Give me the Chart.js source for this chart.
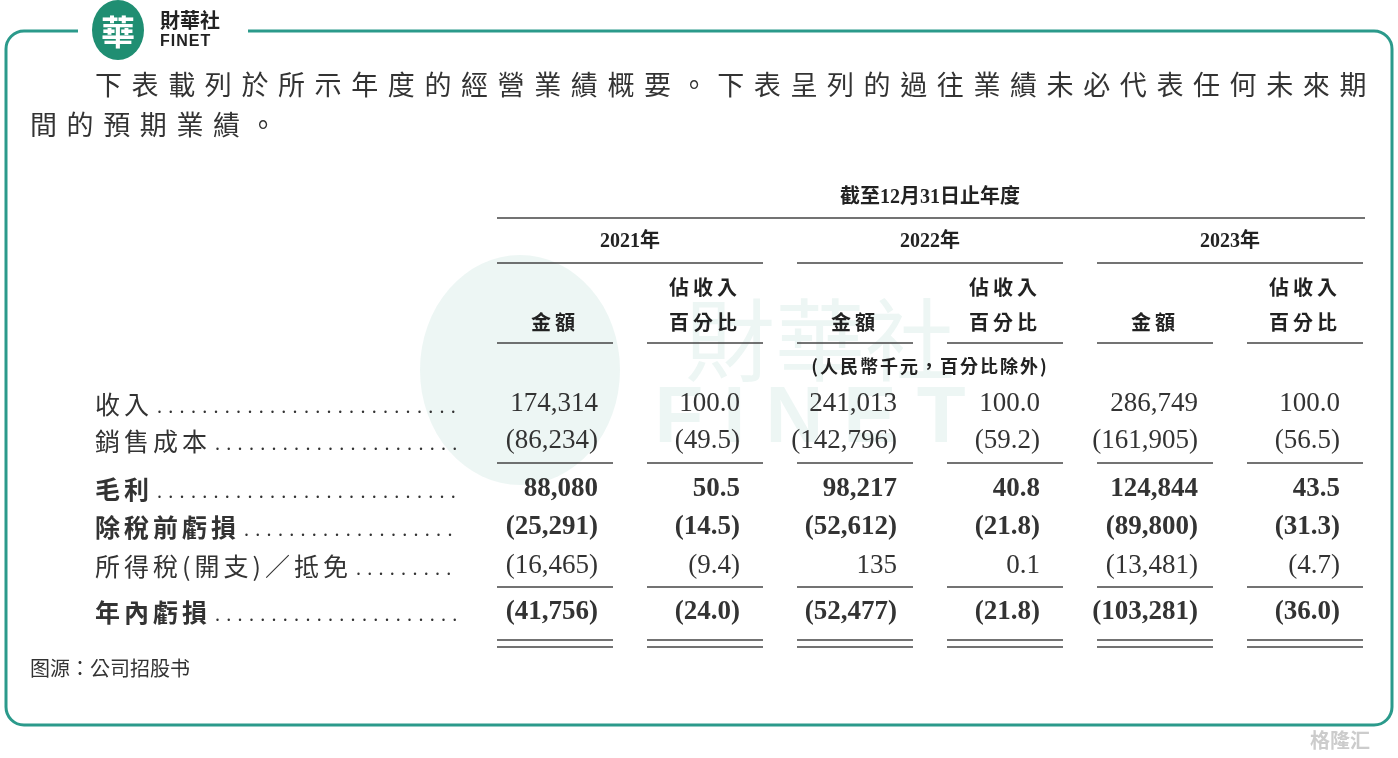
<!DOCTYPE html>
<html><head><meta charset="utf-8">
<script src="https://cdn.jsdelivr.net/npm/chart.js@4"></script>
<style>html,body{margin:0;background:#fff}#wrap{width:1398px;height:758px}</style>
</head><body><div id="wrap"><canvas id="c"></canvas></div>
<script>
// 表格数据
const years = ['2021年', '2022年', '2023年'];
const rowLabels = ['收入', '銷售成本', '毛利', '除稅前虧損', '所得稅(開支)／抵免', '年內虧損'];
const boldRows = [false, false, true, true, false, true];
const amounts2021 = ['174,314', '(86,234)', '88,080', '(25,291)', '(16,465)', '(41,756)'];
const pct2021 = ['100.0', '(49.5)', '50.5', '(14.5)', '(9.4)', '(24.0)'];
const amounts2022 = ['241,013', '(142,796)', '98,217', '(52,612)', '135', '(52,477)'];
const pct2022 = ['100.0', '(59.2)', '40.8', '(21.8)', '0.1', '(21.8)'];
const amounts2023 = ['286,749', '(161,905)', '124,844', '(89,800)', '(13,481)', '(103,281)'];
const pct2023 = ['100.0', '(56.5)', '43.5', '(31.3)', '(4.7)', '(36.0)'];
const introLines = ['下表載列於所示年度的經營業績概要。下表呈列的過往業績未必代表任何未來期', '間的預期業績。'];

const rowY = [404, 441, 489, 527, 566, 612];
const SERIF = '"Liberation Serif", "Noto Sans CJK TC", serif';
const CJK = '"Noto Sans CJK TC", sans-serif';

const tablePlugin = {
    id: 'table',
    afterDraw(chart) {
        const c = chart.ctx;
        const X = v => chart.scales.x.getPixelForValue(v);
        const Y = v => chart.scales.y.getPixelForValue(v);
        const text = (t, x, y, font, align = 'left', color = '#333', spacing = '0px') => {
            c.font = font; c.fillStyle = color; c.textAlign = align; c.textBaseline = 'middle';
            c.letterSpacing = spacing;
            c.fillText(t, X(x), Y(y));
            c.letterSpacing = '0px';
        };
        const line = (x1, x2, y, w = 1.5, color = '#444') => {
            c.strokeStyle = color; c.lineWidth = w;
            c.beginPath(); c.moveTo(X(x1), Y(y)); c.lineTo(X(x2), Y(y)); c.stroke();
        };
        c.save();
        // 外框
        c.strokeStyle = '#2b9a8b'; c.lineWidth = 3;
        c.beginPath(); c.roundRect(X(6), Y(31), X(1392) - X(6), Y(725) - Y(31), 18); c.stroke();
        c.fillStyle = '#fff'; c.fillRect(X(78), 0, 170, 60);
        // logo
        c.fillStyle = '#1f8e72';
        c.beginPath(); c.ellipse(X(118), Y(30), 26, 30, 0, 0, Math.PI * 2); c.fill();
        text('華', 118, 32, 'bold 34px ' + CJK, 'center', '#fff');
        text('財華社', 160, 20, 'bold 20px ' + CJK, 'left', '#222');
        text('FINET', 160, 42, 'bold 16px "Liberation Sans", sans-serif', 'left', '#222', '1px');
        // 水印
        c.globalAlpha = 0.08;
        c.fillStyle = '#1f8e72';
        c.beginPath(); c.ellipse(X(520), Y(370), 100, 115, 0, 0, Math.PI * 2); c.fill();
        text('財華社', 820, 340, '90px ' + CJK, 'center', '#1f8e72');
        text('FINET', 820, 420, 'bold 80px "Liberation Sans", sans-serif', 'center', '#1f8e72', '20px');
        c.globalAlpha = 1;
        // 说明文字
        text(introLines[0], 95, 85, '27px ' + CJK, 'left', '#333', '9.6px');
        text(introLines[1], 30, 125, '27px ' + CJK, 'left', '#333', '9.6px');
        // 表头
        text('截至12月31日止年度', 930, 198, 'bold 20px ' + SERIF, 'center', '#222');
        line(497, 1365, 218);
        const groupX = [497, 797, 1097];
        groupX.forEach((g, i) => {
            text(years[i], g + 133, 242, 'bold 20px ' + SERIF, 'center', '#222');
            line(g, g + 266, 263);
            text('金額', g + 58, 322, 'bold 20px ' + CJK, 'center', '#222', '4px');
            text('佔收入', g + 208, 287, 'bold 20px ' + CJK, 'center', '#222', '4px');
            text('百分比', g + 208, 322, 'bold 20px ' + CJK, 'center', '#222', '4px');
            line(g, g + 116, 343); line(g + 150, g + 266, 343);
            line(g, g + 116, 463); line(g + 150, g + 266, 463);
            line(g, g + 116, 587); line(g + 150, g + 266, 587);
            line(g, g + 116, 640); line(g + 150, g + 266, 640);
            line(g, g + 116, 647); line(g + 150, g + 266, 647);
        });
        text('(人民幣千元，百分比除外)', 930, 366, 'bold 18px ' + CJK, 'center', '#222', '2px');
        // 数据行
        const cols = [[598, amounts2021], [740, pct2021], [897, amounts2022], [1040, pct2022], [1198, amounts2023], [1340, pct2023]];
        rowLabels.forEach((lab, r) => {
            const b = boldRows[r] ? 'bold ' : '';
            text(lab, 95, rowY[r], b + '25px ' + CJK, 'left', '#333', '4px');
            c.font = b + '25px ' + CJK; c.letterSpacing = '4px';
            const w = c.measureText(lab).width; c.letterSpacing = '0px';
            let dots = '';
            const start = 95 + w + 4;
            const n = Math.floor((466 - start) / 11.3);
            for (let k = 0; k < n; k++) dots += '.';
            text(dots, start, rowY[r] + 4, '20px ' + SERIF, 'left', '#333', '6.3px');
            cols.forEach(([x, arr]) => text(arr[r], x, rowY[r], b + '27px ' + SERIF, 'right', '#333'));
        });
        text('图源：公司招股书', 30, 668, '20px ' + CJK, 'left', '#333');
        text('格隆汇', 1340, 740, 'bold 20px ' + CJK, 'center', '#ccc');
        c.restore();
    }
};

new Chart(document.getElementById('c'), {
    type: 'scatter',
    data: { datasets: [{ data: [] }] },
    options: {
        responsive: true,
        maintainAspectRatio: false,
        animation: false,
        layout: { padding: 0 },
        plugins: { legend: { display: false }, tooltip: { enabled: false } },
        scales: {
            x: { type: 'linear', min: 0, max: 1398, display: false },
            y: { type: 'linear', min: 0, max: 758, reverse: true, display: false }
        }
    },
    plugins: [tablePlugin]
});
</script></body></html>
